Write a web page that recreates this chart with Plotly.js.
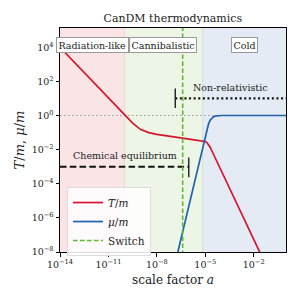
<!DOCTYPE html>
<html><head><meta charset="utf-8">
<script src="https://cdn.plot.ly/plotly-3.0.1.min.js"></script>
<style>html,body{margin:0;padding:0;background:#fff}#g{width:300px;height:300px}</style>
</head><body><div id="g"></div>
<script>
// scale factor samples and T/m
const aT = [1e-14, 1e-12, 1e-11, 3.16e-11, 1e-10, 3.16e-10, 1e-9, 3.16e-9, 1e-8, 3.16e-8, 1e-7, 3.16e-7, 1e-6, 3.16e-6, 6.3e-6, 1e-5, 1.26e-5, 1.58e-5, 2.0e-5, 2.5e-5, 1e-4, 1e-3, 1e-2, 3.16e-2];
const Tm = [1e4, 1e2, 10, 3.16, 1.0, 0.355, 0.15, 0.10, 0.078, 0.065, 0.055, 0.047, 0.041, 0.035, 0.032, 0.030, 0.026, 0.020, 0.0138, 0.0089, 5.5e-4, 5.5e-6, 5.5e-8, 5.5e-9];
// scale factor samples and mu/m
const aMu = [1.58e-7, 6.3e-6, 7.9e-6, 1e-5, 1.26e-5, 1.58e-5, 2.0e-5, 2.5e-5, 3.16e-5, 4e-5, 6.3e-5, 1e-4, 1];
const Mum = [4e-9, 0.01, 0.025, 0.063, 0.166, 0.316, 0.525, 0.71, 0.83, 0.92, 0.977, 1, 1];
// switch location
const aSwitch = 3.98e-7;
// regime boundaries
const aRadEnd = 1e-10;
const aCannEnd = 6.9e-6;
const aMin = 1e-14, aMax = 1;
// reference levels
const unityLevel = 1;
const nonRelLevel = 10;
const aNonRel = 1.38e-7;
const nonRelBar = [2.8, 38];
const chemLevel = 1e-3;
const aChem = 9.5e-7;
const chemBar = [3.5e-3, 2.4e-4];
// ticks
const xTicks = [1e-14, 1e-11, 1e-8, 1e-5, 1e-2];
const xTickText = ['10<sup>−14</sup>','10<sup>−11</sup>','10<sup>−8</sup>','10<sup>−5</sup>','10<sup>−2</sup>'];
const yTicks = [1e-8, 1e-6, 1e-4, 1e-2, 1, 1e2, 1e4];
const yTickText = ['10<sup>−8</sup>','10<sup>−6</sup>','10<sup>−4</sup>','10<sup>−2</sup>','10<sup>0</sup>','10<sup>2</sup>','10<sup>4</sup>'];

const F = 'DejaVu Serif';
const red = '#d7142b', blue = '#1f62ae', green = '#5cb82e';

const traces = [
  {x:[aMin, aMax], y:[unityLevel, unityLevel], mode:'lines', line:{color:'#999', width:1.2, dash:'1.5px,2.5px'}, showlegend:false, hoverinfo:'skip'},
  {x:[aMin, aChem], y:[chemLevel, chemLevel], mode:'lines', line:{color:'#111', width:2, dash:'6.5px,3.3px'}, showlegend:false, hoverinfo:'skip'},
  {x:[aChem, aChem], y:chemBar, mode:'lines', line:{color:'#111', width:1.3}, showlegend:false, hoverinfo:'skip'},
  {x:[aNonRel, aMax], y:[nonRelLevel, nonRelLevel], mode:'lines', line:{color:'#111', width:2.2, dash:'2px,2.6px'}, showlegend:false, hoverinfo:'skip'},
  {x:[aNonRel, aNonRel], y:nonRelBar, mode:'lines', line:{color:'#111', width:1.3}, showlegend:false, hoverinfo:'skip'},
  {x:aT, y:Tm, mode:'lines', name:'<i>T</i>/<i>m</i>', line:{color:red, width:1.7}},
  {x:aMu, y:Mum, mode:'lines', name:'<i>μ</i>/<i>m</i>', line:{color:blue, width:1.7}},
  {x:[aSwitch, aSwitch], y:[1e-9, 1e6], mode:'lines', name:'Switch', line:{color:green, width:1.6, dash:'4.5px,2.5px'}}
];

const layout = {
  width:300, height:300,
  margin:{l:60, r:14, t:28, b:48},
  paper_bgcolor:'#fff', plot_bgcolor:'#fff',
  font:{family:F, color:'#222', size:10},
  title:{text:'CanDM thermodynamics', font:{family:F, size:11, color:'#222'}, x:0.576, xanchor:'center', y:0.94, yanchor:'middle'},
  xaxis:{type:'log', range:[-14, 0], tickvals:xTicks, ticktext:xTickText, ticks:'outside', ticklen:3.5, tickwidth:1, tickcolor:'#000',
    showgrid:false, zeroline:false, showline:true, linecolor:'#000', linewidth:1, mirror:true,
    tickfont:{family:F, size:9.5, color:'#222'},
    title:{text:'scale factor <i>a</i>', font:{family:F, size:12, color:'#222'}, standoff:6}},
  yaxis:{type:'log', range:[-8, 5.13], tickvals:yTicks, ticktext:yTickText, ticks:'outside', ticklen:3.5, tickwidth:1, tickcolor:'#000',
    showgrid:false, zeroline:false, showline:true, linecolor:'#000', linewidth:1, mirror:true,
    tickfont:{family:F, size:9.5, color:'#222'},
    title:{text:'<i>T</i>/<i>m</i>, <i>μ</i>/<i>m</i>', font:{family:F, size:13, color:'#222'}, standoff:4}},
  legend:{x:0.031, y:0.29, xanchor:'left', yanchor:'top', bgcolor:'rgba(255,255,255,0.85)', bordercolor:'#ddd', borderwidth:1,
    font:{family:F, size:10.5, color:'#222'}, tracegroupgap:0, itemwidth:30},
  shapes:[
    {type:'rect', xref:'x', yref:'paper', x0:aMin, x1:aRadEnd, y0:0, y1:1, fillcolor:'#fbe4e6', line:{width:0}, layer:'below'},
    {type:'rect', xref:'x', yref:'paper', x0:aRadEnd, x1:aCannEnd, y0:0, y1:1, fillcolor:'#edf5e7', line:{width:0}, layer:'below'},
    {type:'rect', xref:'x', yref:'paper', x0:aCannEnd, x1:aMax, y0:0, y1:1, fillcolor:'#e4ebf4', line:{width:0}, layer:'below'},
    {type:'line', xref:'x', yref:'paper', x0:aRadEnd, x1:aRadEnd, y0:0, y1:1, line:{color:'#ead9c8', width:1}, layer:'below'},
    {type:'line', xref:'x', yref:'paper', x0:aCannEnd, x1:aCannEnd, y0:0, y1:1, line:{color:'#cfe0cf', width:1}, layer:'below'}
  ],
  annotations:[
    {text:'Radiation-like', xref:'x', yref:'paper', x:-11.96, y:0.962, showarrow:false, font:{family:F, size:9.5, color:'#222'}, bgcolor:'#fff', bordercolor:'#999', borderwidth:1, borderpad:1.5},
    {text:'Cannibalistic', xref:'x', yref:'paper', x:-7.61, y:0.962, showarrow:false, font:{family:F, size:9.5, color:'#222'}, bgcolor:'#fff', bordercolor:'#999', borderwidth:1, borderpad:1.5},
    {text:'Cold', xref:'x', yref:'paper', x:-2.58, y:0.962, showarrow:false, font:{family:F, size:9.5, color:'#222'}, bgcolor:'#fff', bordercolor:'#999', borderwidth:1, borderpad:1.5},
    {text:'Non-relativistic', xref:'x', yref:'y', x:-3.44, y:1.67, showarrow:false, font:{family:F, size:9.5, color:'#222'}},
    {text:'Chemical equilibrium', xref:'x', yref:'y', x:-9.99, y:-2.35, showarrow:false, font:{family:F, size:9.5, color:'#222'}}
  ]
};
Plotly.newPlot('g', traces, layout, {displayModeBar:false, staticPlot:true});
</script></body></html>
